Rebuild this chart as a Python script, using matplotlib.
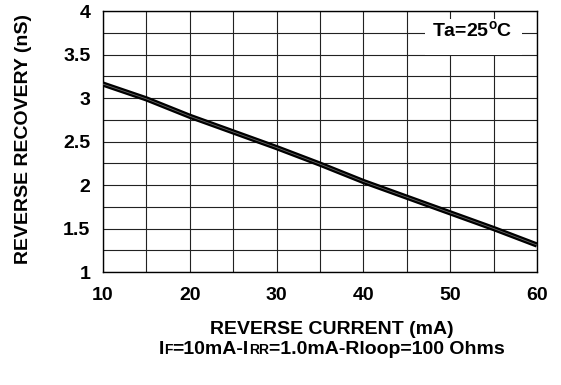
import numpy as np
import matplotlib
matplotlib.use('Agg')
import matplotlib.pyplot as plt
from matplotlib.offsetbox import TextArea, HPacker, AnchoredOffsetbox
from matplotlib.patches import Rectangle

# reverse current (mA) vs reverse recovery (nS)
current = [10, 15, 20, 25, 30, 35, 40, 45, 50, 55, 60]
recovery = [3.16, 2.99, 2.79, 2.61, 2.43, 2.24, 2.04, 1.86, 1.68, 1.50, 1.31]

x_ticks = [10, 20, 30, 40, 50, 60]
y_ticks = [1, 1.5, 2, 2.5, 3, 3.5, 4]
y_labels = ['1', '1.5', '2', '2.5', '3', '3.5', '4']

plt.rcParams['font.family'] = ['Liberation Sans', 'DejaVu Sans']
plt.rcParams['font.weight'] = 'bold'
plt.rcParams['mathtext.fontset'] = 'custom'
plt.rcParams['mathtext.bf'] = 'Liberation Sans:bold'

FS = 14

fig = plt.figure(figsize=(5.61, 3.85), dpi=100)
ax = fig.add_axes([0.1836, 0.2935, 0.7736, 0.6779])

ax.plot(current, recovery, color='black', lw=3.8, solid_capstyle='butt', zorder=3)
ax.plot(current, recovery, color='#666666', lw=0.6, zorder=4)

ax.set_xlim(10, 60)
ax.set_ylim(1, 4)
ax.set_xticks(np.arange(10, 60.1, 5), minor=True)
ax.set_yticks(np.arange(1, 4.01, 0.25), minor=True)
ax.set_xticks(x_ticks)
ax.set_yticks(y_ticks)
ax.set_xticklabels([str(v) for v in x_ticks])
ax.set_yticklabels(y_labels)
ax.grid(True, which='both', color='#222222', lw=0.8)
ax.tick_params(which='both', length=0)
ax.tick_params(axis='x', labelsize=FS, pad=11)
ax.tick_params(axis='y', labelsize=FS, pad=9)
for s in ax.spines.values():
    s.set_color('black')
    s.set_linewidth(1.0)

# white patch behind the temperature note
ax.add_patch(Rectangle((47.1, 3.5), 11.2, 0.41, facecolor='white',
                       edgecolor='none', zorder=2))
ax.text(52.5, 3.77, r'Ta=25$^{\mathbf{o}}$C', fontsize=FS, fontweight='bold',
        ha='center', va='center', zorder=5)

fig.text(0.041, 0.640, 'REVERSE RECOVERY (nS)', rotation=90, fontsize=FS,
         fontweight='bold', ha='center', va='center')
fig.text(0.592, 0.143, 'REVERSE CURRENT (mA)', fontsize=FS,
         fontweight='bold', ha='center', va='center')

# second line of x label with small subscript letters
big = dict(fontsize=FS, fontweight='bold')
small = dict(fontsize=10, fontweight='bold')
parts = [('I', big), ('F', small), ('=10mA-I', big), ('RR', small),
         ('=1.0mA-Rloop=100 Ohms', big)]
box = HPacker(children=[TextArea(t, textprops=p) for t, p in parts],
              align='baseline', pad=0, sep=0)
anc = AnchoredOffsetbox(loc='center', child=box, bbox_to_anchor=(0.591, 0.091),
                        bbox_transform=fig.transFigure, frameon=False,
                        pad=0, borderpad=0)
fig.add_artist(anc)

fig.savefig('out.png', dpi=100)
